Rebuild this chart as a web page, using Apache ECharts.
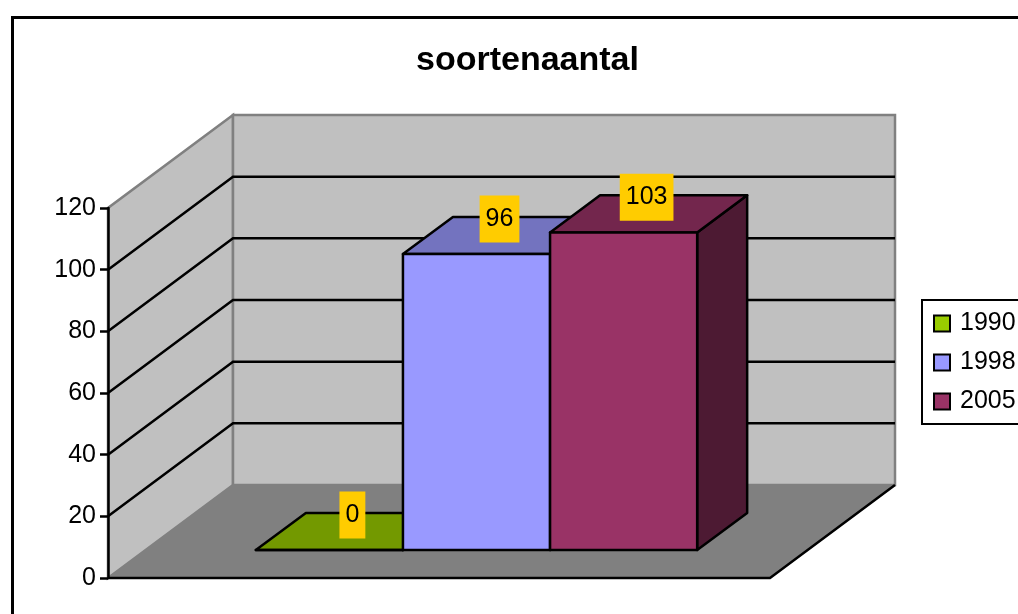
<!DOCTYPE html>
<html>
<head>
<meta charset="utf-8">
<script src="https://cdn.jsdelivr.net/npm/echarts@6/dist/echarts.min.js"></script>
<style>
  html, body { margin: 0; padding: 0; background: #fff; }
  #chart { width: 1018px; height: 614px; }
</style>
</head>
<body>
<div id="chart"></div>
<script>
// data
var years = ['1990', '1998', '2005'];
var counts = [0, 96, 103];
var yTicks = [0, 20, 40, 60, 80, 100, 120];
var frontColors = ['#99cc00', '#9999ff', '#993366'];

// 3d look: oblique depth offset (px) and bar depth range
var DX = 125, DY = -93;
var D0 = 0.3, D1 = 0.7;
var GAP = 1.5;                       // gap width as bar widths
var X_MAX = years.length + GAP;
var Y_MAX = yTicks[yTicks.length - 1];
var FONT = "'Liberation Sans', Arial, sans-serif";

function shift(p, f) { return [p[0] + DX * f, p[1] + DY * f]; }

function shade(hex, k) {
	var n = parseInt(hex.slice(1), 16);
	var r = Math.round(((n >> 16) & 255) * k), g = Math.round(((n >> 8) & 255) * k), b = Math.round((n & 255) * k);
	return 'rgb(' + r + ',' + g + ',' + b + ')';
}

function wallItem(params, api) {
	var o = api.coord([0, 0]), r = api.coord([X_MAX, 0]);
	var ot = api.coord([0, Y_MAX]), rt = api.coord([X_MAX, Y_MAX]);
	var kids = [
		{type: 'polygon', shape: {points: [o, r, shift(r, 1), shift(o, 1)]}, style: {fill: '#808080'}},
		{type: 'polygon', shape: {points: [o, shift(o, 1), shift(ot, 1), ot]}, style: {fill: '#c0c0c0', stroke: '#808080', lineWidth: 2.5}},
		{type: 'polygon', shape: {points: [shift(o, 1), shift(r, 1), shift(rt, 1), shift(ot, 1)]}, style: {fill: '#c0c0c0', stroke: '#808080', lineWidth: 2.5}},
		{type: 'polyline', shape: {points: [o, r, shift(r, 1)]}, style: {stroke: '#000', lineWidth: 2.5, fill: 'none'}}
	];
	yTicks.forEach(function (v) {
		if (v === 0 || v === Y_MAX) return;
		var a = api.coord([0, v]), b = api.coord([X_MAX, v]);
		kids.push({type: 'polyline', shape: {points: [a, shift(a, 1), shift(b, 1)]}, style: {stroke: '#000', lineWidth: 2.5, fill: 'none'}});
	});
	return {type: 'group', children: kids};
}

function barItem(params, api) {
	var i = api.value(0), v = api.value(1);
	var col = api.visual('color');
	var x0 = GAP / 2 + i, x1 = x0 + 1;
	var b0 = api.coord([x0, 0]), b1 = api.coord([x1, 0]);
	var t0 = api.coord([x0, v]), t1 = api.coord([x1, v]);
	var fb0 = shift(b0, D0), fb1 = shift(b1, D0), ft0 = shift(t0, D0), ft1 = shift(t1, D0);
	var bb1 = shift(b1, D1), bt0 = shift(t0, D1), bt1 = shift(t1, D1);
	var line = {stroke: '#000', lineWidth: 2.5, lineJoin: 'round'};
	return {type: 'group', children: [
		{type: 'polygon', shape: {points: [fb1, bb1, bt1, ft1]}, style: Object.assign({fill: shade(col, 0.5)}, line)},
		{type: 'polygon', shape: {points: [ft0, ft1, bt1, bt0]}, style: Object.assign({fill: shade(col, 0.75)}, line)},
		{type: 'polygon', shape: {points: [fb0, fb1, ft1, ft0]}, style: Object.assign({fill: col}, line)},
		{type: 'text', z2: 50, style: {
			text: String(v), x: (ft0[0] + ft1[0]) / 2 + (D1 - D0) * DX / 2 - 2, y: bt0[1] + 2,
			align: 'center', verticalAlign: 'middle', fontSize: 25, fontFamily: FONT, fill: '#000',
			backgroundColor: '#ffcc00', padding: [12, 6, 10, 6]
		}}
	]};
}

var chart = echarts.init(document.getElementById('chart'));

var series = [{
	type: 'custom', name: 'walls', silent: true, z: 1,
	data: [[0, 0]], renderItem: wallItem
}];
years.forEach(function (y, i) {
	series.push({
		type: 'custom', name: y, z: 3 + i,
		itemStyle: {color: frontColors[i]},
		data: [[i, counts[i]]], renderItem: barItem
	});
});

chart.setOption({
	animation: false,
	graphic: [{type: 'rect', left: 10, top: 15, shape: {width: 1040, height: 640}, style: {fill: 'none', stroke: '#000', lineWidth: 3}}],
	title: {
		text: 'soortenaantal', left: 411, top: 39,
		textStyle: {fontSize: 34, fontWeight: 'bold', color: '#000', fontFamily: FONT}
	},
	legend: {
		data: years, orient: 'vertical', left: 922, top: 300,
		padding: [11, 40, 10, 11], itemGap: 14, itemWidth: 16, itemHeight: 16,
		icon: 'rect', borderColor: '#000', borderWidth: 2, borderRadius: 0,
		itemStyle: {borderColor: '#000', borderWidth: 2},
		textStyle: {fontSize: 25, color: '#000', fontFamily: FONT, padding: [0, 0, 0, 5]}
	},
	grid: {left: 108, right: 248, top: 208, bottom: 36},
	xAxis: {type: 'value', min: 0, max: X_MAX, show: false},
	yAxis: {
		type: 'value', min: 0, max: Y_MAX, interval: 20, z: 10,
		axisLine: {show: true, lineStyle: {color: '#000', width: 2.5}},
		axisTick: {show: true, length: 8, lineStyle: {color: '#000', width: 2.5}},
		axisLabel: {fontSize: 25, color: '#000', fontFamily: FONT, margin: 12},
		splitLine: {show: false}
	},
	series: series
});
</script>
</body>
</html>
